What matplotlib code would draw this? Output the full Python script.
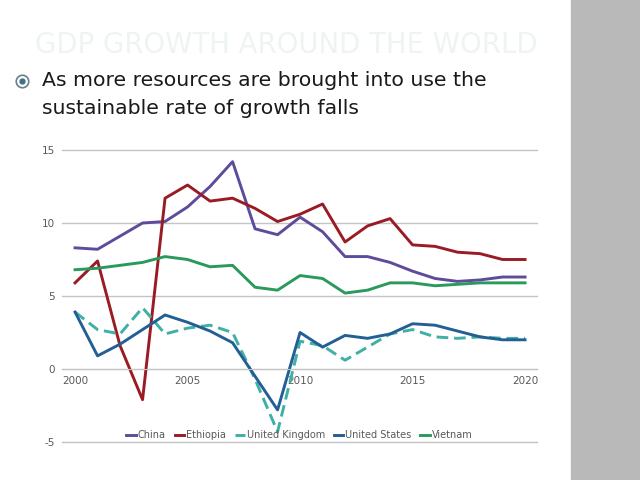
import numpy as np
import matplotlib.pyplot as plt
from matplotlib.lines import Line2D
from matplotlib.patches import Rectangle

plt.rcParams['axes.unicode_minus'] = False

# Dados
anos = list(range(2000, 2021))
china = [8.3, 8.2, 9.1, 10.0, 10.1, 11.1, 12.5, 14.2, 9.6, 9.2, 10.4, 9.4,
         7.7, 7.7, 7.3, 6.7, 6.2, 6.0, 6.1, 6.3, 6.3]
etiopia = [5.9, 7.4, 1.6, -2.1, 11.7, 12.6, 11.5, 11.7, 11.0, 10.1, 10.6, 11.3,
           8.7, 9.8, 10.3, 8.5, 8.4, 8.0, 7.9, 7.5, 7.5]
reino_unido = [3.9, 2.7, 2.4, 4.2, 2.4, 2.8, 3.0, 2.5, -0.7, -4.3, 1.9, 1.6,
               0.6, 1.5, 2.4, 2.7, 2.2, 2.1, 2.2, 2.1, 2.1]
eua = [3.9, 0.9, 1.7, 2.7, 3.7, 3.2, 2.6, 1.8, -0.5, -2.8, 2.5, 1.5,
       2.3, 2.1, 2.4, 3.1, 3.0, 2.6, 2.2, 2.0, 2.0]
vietna = [6.8, 6.9, 7.1, 7.3, 7.7, 7.5, 7.0, 7.1, 5.6, 5.4, 6.4, 6.2,
          5.2, 5.4, 5.9, 5.9, 5.7, 5.8, 5.9, 5.9, 5.9]

nomes = ['China', 'Ethiopia', 'United Kingdom', 'United States', 'Vietnam']
cores = ['#5e4b9c', '#9a1b24', '#3fb0a5', '#235f94', '#2a9a5c']
estilos = ['-', '-', '--', '-', '-']
series = [china, etiopia, reino_unido, eua, vietna]

fig = plt.figure(figsize=(6.4, 4.8), dpi=100)

# painel cinza da direita
fig.add_artist(Rectangle((571 / 640, 0), 69 / 640, 1, transform=fig.transFigure,
                         color='#b9b9b9', zorder=0))

# titulo quase invisivel
fig.text(35 / 640, 1 - 45 / 480, 'GDP GROWTH AROUND THE WORLD', fontsize=19.8,
         color='#eef4f3', va='center', ha='left', family='DejaVu Sans Condensed')

# marcador do bullet
fig.add_artist(Line2D([22 / 640], [1 - 81 / 480], marker='o', markersize=9,
                      markerfacecolor='white', markeredgecolor='#6a7f8a',
                      markeredgewidth=1.2, transform=fig.transFigure))
fig.add_artist(Line2D([22 / 640], [1 - 81 / 480], marker='o', markersize=3.5,
                      color='#3f6f86', transform=fig.transFigure))

fig.text(42 / 640, 1 - 81 / 480, 'As more resources are brought into use the',
         fontsize=14.7, color='#1a1a1a', va='center', ha='left')
fig.text(42 / 640, 1 - 109 / 480, 'sustainable rate of growth falls',
         fontsize=14.7, color='#1a1a1a', va='center', ha='left')

ax = fig.add_axes([62 / 640, 38 / 480, 475 / 640, 292 / 480])

for s, nome, cor, ls in zip(series, nomes, cores, estilos):
    ax.plot(anos, s, color=cor, linestyle=ls, linewidth=2.1, label=nome,
            dashes=(4, 2) if ls == '--' else (None, None))

ax.set_xlim(1999.42, 2020.53)
ax.set_ylim(-5, 15)
ax.set_yticks([-5, 0, 5, 10, 15])
ax.set_xticks([2000, 2005, 2010, 2015, 2020])
ax.grid(True, axis='y', color='#c4c4c4', linewidth=1)
for g in ax.get_ygridlines():
    g.set_clip_on(False)
ax.set_axisbelow(True)

for lado in ['top', 'right', 'left']:
    ax.spines[lado].set_visible(False)
ax.spines['bottom'].set_position(('data', 0))
ax.spines['bottom'].set_color('#c4c4c4')
ax.tick_params(axis='both', length=0, labelsize=7.5, labelcolor='#595959')
ax.tick_params(axis='y', pad=5)
ax.tick_params(axis='x', pad=5)

ax.legend(loc='center', bbox_to_anchor=(0.5, 0.024), ncol=5, frameon=False,
          fontsize=7, labelcolor='#595959', handlelength=1.0, handletextpad=0.2,
          columnspacing=0.9)

plt.savefig('out.png', dpi=100)
